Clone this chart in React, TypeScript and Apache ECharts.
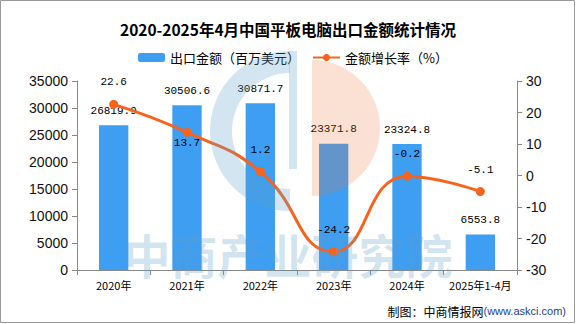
import React, { useEffect, useRef } from "react";
import * as echarts from "echarts";

const categories = ["2020年", "2021年", "2022年", "2023年", "2024年", "2025年1-4月"];
const exportValues = [26819.9, 30506.6, 30871.7, 23371.8, 23324.8, 6553.8];
const growthRates = [22.6, 13.7, 1.2, -24.2, -0.2, -5.1];
const growthLabelPos = ["top", "bottom", "top", "top", "top", "top"];
const titleText = "2020-2025年4月中国平板电脑出口金额统计情况";
const seriesNames = ["出口金额（百万美元）", "金额增长率（%）"];

export default function App() {
  const ref = useRef<HTMLDivElement>(null);
  useEffect(() => {
    if (!ref.current) return;
    const chart = echarts.init(ref.current, null, { renderer: "svg" });
    const wmBlue = "rgba(95,160,200,0.28)";
    const wmOrange = "rgba(235,120,60,0.22)";
    chart.setOption({
      animation: false,
      backgroundColor: "#fff",
      title: {
        text: titleText,
        left: "center",
        top: 16,
        textStyle: { fontFamily: "Noto Sans CJK SC", fontSize: 15.5, fontWeight: "bold", color: "#000" },
      },
      legend: {
        top: 46,
        left: 133,
        itemWidth: 27,
        itemHeight: 9,
        itemGap: 12,
        textStyle: { fontFamily: "Noto Sans CJK SC", fontSize: 13, color: "#000" },
        data: seriesNames,
      },
      grid: { left: 77, right: 59, top: 81, bottom: 54 },
      xAxis: {
        type: "category",
        data: categories,
        axisLine: { lineStyle: { color: "#888" } },
        axisTick: { show: true, lineStyle: { color: "#888" } },
        axisLabel: { fontFamily: "Noto Sans CJK SC", fontSize: 11, color: "#000", margin: 9, interval: 0 },
      },
      yAxis: [
        {
          type: "value",
          min: 0,
          max: 35000,
          interval: 5000,
          axisLine: { show: true, lineStyle: { color: "#888" } },
          axisTick: { show: true, lineStyle: { color: "#888" } },
          splitLine: { show: false },
          axisLabel: {
            fontFamily: "Liberation Sans",
            fontSize: 14,
            color: "#111",
            margin: 9,
            formatter: (v: number) => String(v),
          },
        },
        {
          type: "value",
          min: -30,
          max: 30,
          interval: 10,
          position: "right",
          axisLine: { show: true, lineStyle: { color: "#888" } },
          axisTick: { show: true, lineStyle: { color: "#888" } },
          splitLine: { show: false },
          axisLabel: {
            fontFamily: "Liberation Sans",
            fontSize: 14,
            color: "#111",
            margin: 9,
            formatter: (v: number) => String(v),
          },
        },
      ],
      series: [
        {
          name: seriesNames[0],
          type: "bar",
          data: exportValues,
          barWidth: "40%",
          itemStyle: { color: "#3e9ef2" },
          label: {
            show: true,
            position: "top",
            distance: 9,
            fontFamily: "Liberation Mono",
            fontSize: 11,
            color: "#000",
          },
        },
        {
          name: seriesNames[1],
          type: "line",
          yAxisIndex: 1,
          smooth: 0.5,
          symbol: "circle",
          symbolSize: 9,
          data: growthRates.map((v, i) => ({
            value: v,
            label: { position: growthLabelPos[i], distance: growthLabelPos[i] === "top" ? 12 : 1 },
          })),
          lineStyle: { color: "#f7631c", width: 3 },
          itemStyle: { color: "#f7631c" },
          label: {
            show: true,
            fontFamily: "Liberation Mono",
            fontSize: 11,
            color: "#000",
          },
          z: 3,
        },
      ],
      graphic: [
        {
          type: "sector",
          z: 50,
          silent: true,
          shape: { cx: 290, cy: 131, r: 80, r0: 58, startAngle: Math.PI / 2, endAngle: (3 * Math.PI) / 2 },
          style: { fill: wmBlue },
        },
        {
          type: "rect",
          z: 50,
          silent: true,
          shape: { x: 289, y: 51, width: 8, height: 118 },
          style: { fill: wmBlue },
        },
        {
          type: "sector",
          z: 50,
          silent: true,
          shape: { cx: 312, cy: 128, r: 68, r0: 0, startAngle: -Math.PI / 2, endAngle: Math.PI / 2 },
          style: { fill: wmOrange },
        },
        {
          type: "text",
          z: 50,
          silent: true,
          x: 288,
          y: 253,
          style: {
            text: "中商产业研究院",
            fill: wmBlue,
            font: "bold 47px 'Noto Sans CJK SC'",
            align: "center",
            verticalAlign: "middle",
          },
        },
        {
          type: "text",
          z: 60,
          x: 566,
          y: 311,
          style: {
            text: "{a|制图：中商情报网}{b|(www.askci.com)}",
            align: "right",
            verticalAlign: "middle",
            rich: {
              a: { fontFamily: "Noto Sans CJK SC", fontSize: 12, fill: "#000", color: "#000" },
              b: { fontFamily: "Liberation Sans", fontSize: 11, fill: "#1d3f8f", color: "#1d3f8f" },
            },
          },
        },
        {
          type: "rect",
          z: 60,
          silent: true,
          shape: { x: 0.5, y: 0.5, width: 574, height: 322 },
          style: { fill: "none", stroke: "#999", lineWidth: 1 },
        },
      ],
    });
    return () => chart.dispose();
  }, []);
  return (
    <div
      ref={ref}
      style={{ position: "fixed", left: 0, top: 0, width: 576, height: 324 }}
    />
  );
}
